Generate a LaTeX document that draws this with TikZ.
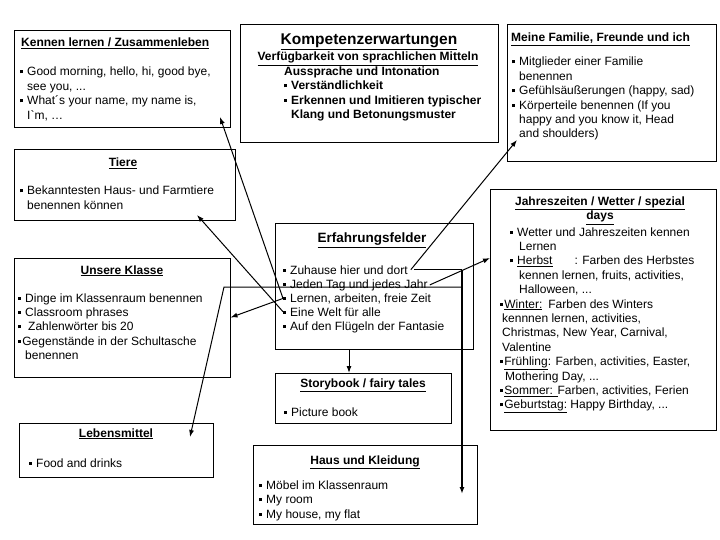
\documentclass[tikz,border=0pt]{standalone}
\usepackage{fontspec}
\setmainfont{Liberation Sans}
\usetikzlibrary{arrows.meta}

\newcommand{\blt}{\rule[2.5pt]{3pt}{3pt}\hspace{4pt}}
\newcommand{\bltx}{\rule[2.5pt]{3pt}{3pt}\hspace{1.2pt}}

\tikzset{
  box/.style={draw, line width=1pt, inner sep=0pt},
  txt/.style={anchor=base west, inner sep=0pt, align=left, font=\fontsize{12}{14.4}\selectfont},
  ttl/.style={anchor=base, inner sep=0pt, align=center, font=\bfseries\fontsize{12}{14.4}\selectfont},
  link/.style={line width=1pt, ->},
}

\begin{document}
\begin{tikzpicture}[x=1pt, y=-1pt, >={Latex[length=7pt,width=5pt]}]
\useasboundingbox (0,0) rectangle (720,540);

% the boxes
\node[box, minimum width=216pt, minimum height=97pt] (kennen) at (122,79.5) {};
\node[box, minimum width=258pt, minimum height=118pt] (kompetenz) at (369,84) {};
\node[box, minimum width=209pt, minimum height=137pt] (familie) at (611.5,93.5) {};
\node[box, minimum width=221pt, minimum height=71pt] (tiere) at (124.5,185.5) {};
\node[box, minimum width=226pt, minimum height=240pt] (jahres) at (603,310) {};
\node[box, minimum width=216pt, minimum height=119pt] (klasse) at (122,317.5) {};
\node[box, minimum width=198pt, minimum height=125pt] (erf) at (374,286.5) {};
\node[box, minimum width=176pt, minimum height=50pt] (story) at (363,398) {};
\node[box, minimum width=194pt, minimum height=54pt] (leben) at (116,450) {};
\node[box, minimum width=224pt, minimum height=79pt] (haus) at (365,484.5) {};

% Kennen lernen (multi-line nodes sit on their last line)
\node[ttl, anchor=base west] (kennenT) at (21,47) {\underline{Kennen lernen / Zusammenleben}};
\node[txt] (kennenB) at (20,119.2) {\blt Good morning, hello, hi, good bye,\\
  \hspace*{7pt}see you, ...\\
  \blt What´s your name, my name is,\\
  \hspace*{7pt}I\textasciigrave m, …};

% Kompetenzerwartungen
\node[ttl, font=\bfseries\fontsize{15.5}{18}\selectfont] (kompT) at (369,45) {\underline{Kompetenzerwartungen}};
\node[ttl] (mittel) at (368,61) {\underline{Verfügbarkeit von sprachlichen Mitteln}};
\node[txt, font=\bfseries\fontsize{12}{14.3}\selectfont] (ausspr) at (284,118.5) {Aussprache und Intonation\\
  \blt Verständlichkeit\\
  \blt Erkennen und Imitieren typischer\\
  \hspace*{7pt}Klang und Betonungsmuster};

% Meine Familie
\node[ttl, anchor=base west] (familieT) at (511,42) {\underline{Meine Familie, Freunde und ich}};
\node[txt] (familieB) at (512,138) {\blt Mitglieder einer Familie\\
  \hspace*{7pt}benennen\\
  \blt Gefühlsäußerungen (happy, sad)\\
  \blt Körperteile benennen (If you\\
  \hspace*{7pt}happy and you know it, Head\\
  \hspace*{7pt}and shoulders)};

% Tiere
\node[ttl] (tiereT) at (123,167) {\underline{Tiere}};
\node[txt] (tiereB) at (20,209.4) {\blt Bekanntesten Haus- und Farmtiere\\
  \hspace*{7pt}benennen können};

% Jahreszeiten
\node[ttl] (jahresT) at (600,220) {\underline{Jahreszeiten / Wetter / spezial}\\ \underline{days}};
\node[txt] (jahresB) at (500,408.8) {\hspace*{10pt}\blt Wetter und Jahreszeiten kennen\\
  \hspace*{19pt}Lernen\\
  \hspace*{10pt}\blt \underline{Herbst}\hspace{22pt}: Farben des Herbstes\\
  \hspace*{19pt}kennen lernen, fruits, activities,\\
  \hspace*{19pt}Halloween, ...\\
  \bltx\underline{Winter:}\hspace{6pt}Farben des Winters\\
  \hspace*{2pt}kennnen lernen, activities,\\
  \hspace*{2pt}Christmas, New Year, Carnival,\\
  \hspace*{2pt}Valentine\\
  \bltx\underline{Frühling}: Farben, activities, Easter,\\
  \hspace*{5pt}Mothering Day, ...\\
  \bltx\underline{Sommer: }Farben, activities, Ferien\\
  \bltx\underline{Geburtstag:} Happy Birthday, ...};

% Unsere Klasse
\node[ttl] (klasseT) at (122,274) {\underline{Unsere Klasse}};
\node[txt] (klasseB) at (18,359.6) {\blt Dinge im Klassenraum benennen\\
  \blt Classroom phrases\\
  \blt\hspace{3pt}Zahlenwörter bis 20\\
  \bltx Gegenstände in der Schultasche\\
  \hspace*{7pt}benennen};

% Erfahrungsfelder
\node[ttl, font=\bfseries\fontsize{13.5}{16}\selectfont] (erfT) at (372,243) {\underline{Erfahrungsfelder}};
\node[txt] (zuhause) at (283,274) {\blt Zuhause hier und dort};
\node[txt] (jeden) at (283,288) {\blt Jeden Tag und jedes Jahr};
\node[txt] (lernen) at (283,302) {\blt Lernen, arbeiten, freie Zeit};
\node[txt] (welt) at (283,316) {\blt Eine Welt für alle};
\node[txt] (fluegel) at (283,330.5) {\blt Auf den Flügeln der Fantasie};

% Storybook
\node[ttl] (storyT) at (363,387) {\underline{Storybook / fairy tales}};
\node[txt] (storyB) at (284,416) {\blt Picture book};

% Lebensmittel
\node[ttl] (lebenT) at (116,437) {\underline{Lebensmittel}};
\node[txt] (lebenB) at (29,467) {\blt Food and drinks};

% Haus und Kleidung
\node[ttl] (hausT) at (365,464) {\underline{Haus und Kleidung}};
\node[txt] (hausB) at (259,518.3) {\blt Möbel im Klassenraum\\
  \blt My room\\
  \blt My house, my flat};

% arrow ends
\coordinate (kennenIn) at (220,117);
\coordinate (tiereIn) at (197,215);
\coordinate (familieIn) at (517,140);
\coordinate (jahresIn) at (490,258);
\coordinate (hausIn) at (462,494);
\coordinate (lebenIn) at (190,437);
\coordinate (lebenKnick) at (224,287);
\coordinate (storyIn) at (349,373);
\coordinate (branch) at (462,287);

% connectors
\draw[link] (lernen.west) -- (kennenIn);
\draw[link] (lernen.west) -- (klasse.east);
\draw[link] (welt.west) -- (tiereIn);
\draw[link] ([xshift=3pt]zuhause.east) -- (familieIn);
\draw[link] ([xshift=2pt]jeden.east) -- (jahresIn);
\draw[line width=1pt] ([xshift=6pt]zuhause.east) -- (zuhause.east -| hausIn);
\draw[link, line width=2pt] (zuhause.east -| hausIn) -- (hausIn);
\draw[link] (branch) -- (lebenKnick) -- (lebenIn);
\draw[link] (erf.south -| storyIn) -- (storyIn);
\end{tikzpicture}
\end{document}
